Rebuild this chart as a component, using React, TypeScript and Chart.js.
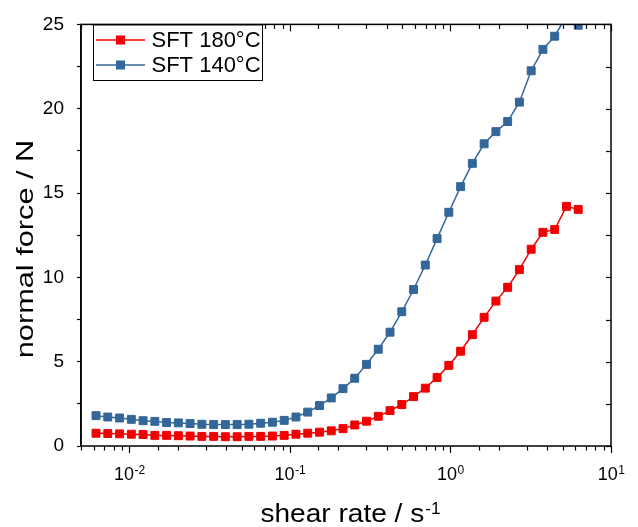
import React, { useEffect, useRef } from 'react';
import { Chart, registerables } from 'chart.js';

Chart.register(...registerables);

// shear rate / s^-1
const shearRate = [
  0.0062, 0.00734, 0.00869, 0.01029, 0.01218, 0.01442, 0.01706, 0.0202, 0.0239, 0.0283,
  0.0335, 0.03965, 0.04694, 0.05556, 0.06577, 0.07785, 0.09215, 0.1091, 0.1291, 0.1529,
  0.181, 0.2142, 0.2535, 0.3001, 0.3552, 0.4205, 0.4977, 0.5892, 0.6974, 0.8255,
  0.9772, 1.157, 1.369, 1.621, 1.919, 2.271, 2.689, 3.183, 3.767, 4.46,
  5.279, 6.249,
];

// normal force / N
const sft180 = [
  0.76, 0.74, 0.72, 0.7, 0.68, 0.63, 0.63, 0.61, 0.59, 0.57,
  0.57, 0.55, 0.55, 0.57, 0.57, 0.59, 0.63, 0.7, 0.76, 0.82,
  0.9, 1.03, 1.25, 1.47, 1.76, 2.1, 2.46, 2.93, 3.43, 4.06,
  4.78, 5.62, 6.6, 7.63, 8.59, 9.41, 10.46, 11.67, 12.67, 12.84,
  14.21, 14.03,
];

const sft140 = [
  1.8, 1.72, 1.66, 1.58, 1.5, 1.46, 1.39, 1.37, 1.33, 1.29,
  1.27, 1.27, 1.27, 1.29, 1.35, 1.41, 1.52, 1.72, 2.01, 2.4,
  2.85, 3.4, 4.02, 4.84, 5.74, 6.75, 7.96, 9.28, 10.73, 12.3,
  13.86, 15.38, 16.76, 17.92, 18.64, 19.24, 20.39, 22.25, 23.52, 24.3,
  25.5, 24.95,
];

const seriesNames = ['SFT 180°C', 'SFT 140°C'];
const seriesColors = ['#F00000', '#336699'];

const xMin = 0.005;
const xMax = 10;
const yMin = 0;
const yMax = 25;
const yStep = 2.5;
const yLabelEvery = 5;

const xTitle = 'shear rate / s';
const xTitleSup = '-1';
const yTitle = 'normal force / N';

const FONT = '"Liberation Sans", Arial, Helvetica, sans-serif';

const isPow10 = (v: number) => {
  const l = Math.log10(v);
  return Math.abs(l - Math.round(l)) < 1e-6;
};

const decorPlugin = {
  id: 'decor',
  afterDraw(chart: any) {
    const { ctx, chartArea: a, scales } = chart;
    const x = scales.x;
    const y = scales.y;
    ctx.save();
    ctx.strokeStyle = '#000';
    ctx.fillStyle = '#000';

    const line = (x1: number, y1: number, x2: number, y2: number) => {
      ctx.beginPath();
      ctx.moveTo(x1, y1);
      ctx.lineTo(x2, y2);
      ctx.stroke();
    };

    // x ticks (bottom outward, top inward)
    ctx.lineWidth = 1.2;
    for (const t of x.ticks) {
      if (t.value < xMin - 1e-12 || t.value > xMax + 1e-9) continue;
      const px = Math.round(x.getPixelForValue(t.value)) + 0.5;
      const major = isPow10(t.value);
      const len = major ? 7 : 4.5;
      line(px, a.bottom, px, a.bottom + len);
      line(px, a.top, px, a.top + len);
    }
    // right ticks inward
    for (const t of y.ticks) {
      const py = Math.round(y.getPixelForValue(t.value)) + 0.5;
      line(a.right - 5, py, a.right, py);
    }

    // frame
    ctx.lineWidth = 1.5;
    ctx.strokeRect(a.left, a.top, a.right - a.left, a.bottom - a.top);

    // x tick labels with superscript exponent
    for (const t of x.ticks) {
      if (!isPow10(t.value)) continue;
      const exp = String(Math.round(Math.log10(t.value)));
      const px = x.getPixelForValue(t.value);
      ctx.font = `18px ${FONT}`;
      const wBase = ctx.measureText('10').width;
      ctx.font = `12px ${FONT}`;
      const wExp = ctx.measureText(exp).width;
      const start = px - (wBase + wExp) / 2;
      ctx.textAlign = 'left';
      ctx.textBaseline = 'alphabetic';
      ctx.font = `18px ${FONT}`;
      ctx.fillText('10', start, 480);
      ctx.font = `12px ${FONT}`;
      ctx.fillText(exp, start + wBase + 0.5, 473.5);
    }

    // x title
    ctx.save();
    const sx = 1.08;
    ctx.font = `26px ${FONT}`;
    const wt = ctx.measureText(xTitle).width * sx;
    ctx.font = `16px ${FONT}`;
    const ws = ctx.measureText(xTitleSup).width * sx;
    const cx = (a.left + a.right) / 2 + 4;
    const x0 = cx - (wt + ws) / 2;
    ctx.translate(x0, 521.7);
    ctx.scale(sx, 1);
    ctx.textAlign = 'left';
    ctx.textBaseline = 'alphabetic';
    ctx.font = `26px ${FONT}`;
    ctx.fillText(xTitle, 0, 0);
    ctx.font = `16px ${FONT}`;
    ctx.fillText(xTitleSup, wt / sx + 1, -7.5);
    ctx.restore();

    // y title
    ctx.save();
    ctx.translate(33.3, 249);
    ctx.rotate(-Math.PI / 2);
    ctx.scale(1.28, 1);
    ctx.font = `24px ${FONT}`;
    ctx.textAlign = 'center';
    ctx.textBaseline = 'alphabetic';
    ctx.fillText(yTitle, 0, 0);
    ctx.restore();

    // legend
    const bx = 93.5, by = 25, bw = 169, bh = 55.5;
    ctx.lineWidth = 1;
    ctx.fillStyle = '#fff';
    ctx.fillRect(bx, by, bw, bh);
    ctx.strokeStyle = '#000';
    ctx.strokeRect(bx, by, bw, bh);
    seriesNames.forEach((name, i) => {
      const ry = 40 + i * 25;
      const col = seriesColors[i];
      ctx.strokeStyle = col;
      ctx.lineWidth = 1.5;
      line(96, ry, 145, ry);
      ctx.fillStyle = col;
      ctx.fillRect(120.5 - 4.5, ry - 4.5, 9, 9);
      ctx.fillStyle = '#000';
      ctx.font = `22px ${FONT}`;
      ctx.textAlign = 'left';
      ctx.textBaseline = 'middle';
      ctx.fillText(name, 151.5, ry + 1);
    });

    ctx.restore();
  },
};

export default function App() {
  const canvasRef = useRef<HTMLCanvasElement | null>(null);

  useEffect(() => {
    document.body.style.margin = '0';
    const canvas = canvasRef.current;
    if (!canvas) return;

    const mk = (vals: number[], i: number) => ({
      label: seriesNames[i],
      data: shearRate.map((xv, k) => ({ x: xv, y: vals[k] })),
      borderColor: seriesColors[i],
      backgroundColor: seriesColors[i],
      pointBackgroundColor: seriesColors[i],
      pointBorderColor: seriesColors[i],
      borderWidth: 1.5,
      pointStyle: 'rect',
      pointRadius: 5.6,
      pointBorderWidth: 1,
      tension: 0,
      clip: 0,
    });

    const chart = new Chart(canvas, {
      type: 'line',
      data: {
        datasets: [mk(sft180, 0), mk(sft140, 1)],
      },
      options: {
        animation: false,
        responsive: true,
        maintainAspectRatio: false,
        layout: { padding: { top: 19, right: 27, left: 0, bottom: 0 } },
        plugins: {
          legend: { display: false },
          tooltip: { enabled: false },
        },
        scales: {
          x: {
            type: 'logarithmic',
            min: xMin,
            max: xMax,
            ticks: { display: false },
            grid: { display: false },
            border: { display: false },
            afterFit: (s: any) => {
              s.height = 81;
            },
          },
          y: {
            type: 'linear',
            min: yMin,
            max: yMax,
            ticks: {
              stepSize: yStep,
              color: '#000',
              padding: 13,
              font: { size: 19, family: FONT },
              callback: (v: any) => (Math.abs(v % yLabelEvery) < 1e-9 ? String(v) : ''),
            },
            grid: {
              display: true,
              drawOnChartArea: false,
              drawTicks: true,
              tickLength: 4,
              tickColor: '#000',
              tickWidth: 1.2,
            },
            border: { display: true, color: '#000', width: 1.5 },
            afterFit: (s: any) => {
              s.width = 81;
            },
          },
        },
      },
      plugins: [decorPlugin],
    } as any);

    return () => chart.destroy();
  }, []);

  return (
    <div style={{ position: 'absolute', left: 0, top: 0, width: 638, height: 527 }}>
      <canvas ref={canvasRef} />
    </div>
  );
}
